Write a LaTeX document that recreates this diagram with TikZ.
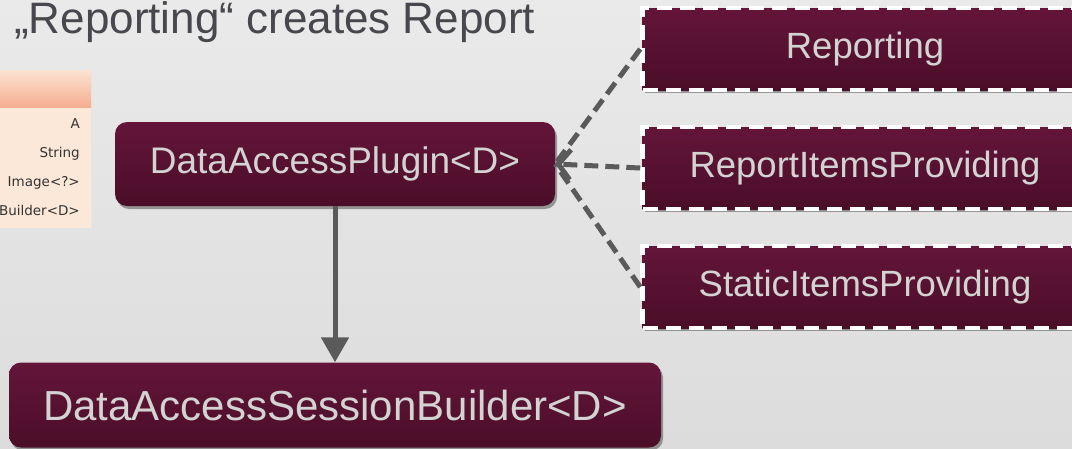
\documentclass[tikz,border=0pt]{standalone}
\usepackage{fontspec}
\setmainfont{Liberation Sans}
\newfontfamily\umlfont{DejaVu Sans}
\usetikzlibrary{arrows.meta,shadows}

\definecolor{bgtop}{HTML}{EAEAEA}
\definecolor{bgbot}{HTML}{DCDCDC}
\definecolor{wine}{HTML}{641539}
\definecolor{winedark}{HTML}{4A0E28}
\definecolor{boxtext}{HTML}{D3D3D3}
\definecolor{linkgray}{HTML}{5A5A5A}
\definecolor{titlegray}{HTML}{47474D}
\definecolor{peach}{HTML}{FCE8D8}
\definecolor{peachtop}{HTML}{FCE2D0}
\definecolor{salmon}{HTML}{F5AC8F}

\begin{document}
\begin{tikzpicture}[x=1pt,y=-1pt,
  winebox/.style={top color=wine, bottom color=winedark, text=boxtext, inner sep=0pt,
    drop shadow={shadow xshift=2pt, shadow yshift=-3pt, opacity=0.35, fill=black}},
  classbox/.style={winebox, rounded corners=12pt},
  rolebox/.style={winebox, draw=white, line width=4.5pt, dash pattern=on 15pt off 8pt,
    minimum width=445pt, minimum height=82pt, font=\fontsize{36.5}{42}\selectfont},
  dashedlink/.style={draw=linkgray, line width=5pt, dash pattern=on 14pt off 7pt},
  realizes/.style={dashedlink, -{Straight Barb[length=12pt, width=30pt]}},
  creates/.style={draw=linkgray, line width=5pt, -{Triangle[length=25pt, width=27pt]}},
  member/.style={anchor=base east, inner sep=0pt, text=black!80,
    font=\umlfont\fontsize{13.5}{16}\selectfont},
]
% page and background
\useasboundingbox (0,0) rectangle (1072,448);
\clip (0,0) rectangle (1072,448);
\shade[top color=bgtop, bottom color=bgbot] (0,0) rectangle (1072,448);

% heading
\node[anchor=base west, inner sep=0pt, text=titlegray,
  font=\fontsize{44}{52}\selectfont] (title) at (14,33) {„Reporting“ creates Report};

% fragment of a class compartment on the left
\node[anchor=north east, draw=white!80!gray, line width=1.2pt, fill=peach,
  minimum width=98pt, minimum height=158pt, inner sep=0pt] (cls) at (92,70) {};
\node[anchor=north east, top color=peachtop, bottom color=salmon, inner sep=0pt,
  minimum width=97pt, minimum height=37pt] (clshead) at (91.4,70.6) {};
\node[member] (m1) at (80,128) {A};
\node[member] (m2) at (80,157) {String};
\node[member] (m3) at (80,186) {Image<?>};
\node[member] (m4) at (80,215) {Builder<D>};

% central classes
\node[classbox, minimum width=440pt, minimum height=84pt,
  font=\fontsize{37}{44}\selectfont] (plugin) at (335,164) {DataAccessPlugin<D>};
\node[classbox, minimum width=652pt, minimum height=85pt,
  font=\fontsize{42}{50}\selectfont] (builder) at (335,405) {DataAccessSessionBuilder<D>};

% interfaces on the right
\node[rolebox] (reporting) at (865,49) {Reporting};
\node[rolebox] (items) at (865,168) {ReportItemsProviding};
\node[rolebox] (static) at (865,287) {StaticItemsProviding};

% connectors
\draw[creates] (plugin.south) -- (builder.north);
\draw[dashedlink] (reporting.west) -- (plugin.east);
\draw[dashedlink] (static.west) -- (plugin.east);
\draw[realizes] (items.west) -- (plugin.east);
\end{tikzpicture}
\end{document}
